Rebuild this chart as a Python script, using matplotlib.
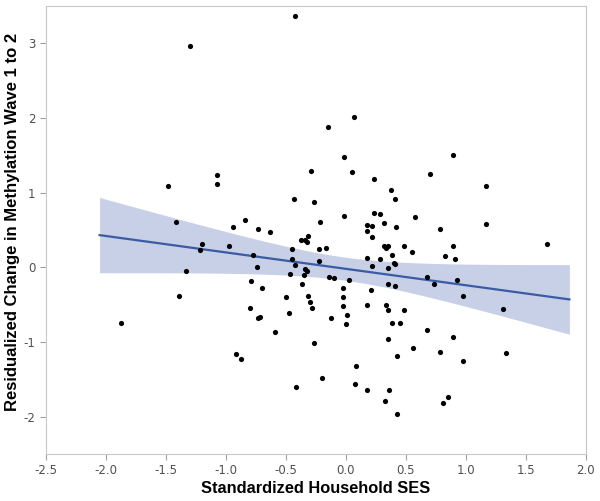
import matplotlib.pyplot as plt
import numpy as np

# standardized household SES (x) and residualized methylation change (y)
ses = [-0.42, -1.30, 0.07, -0.15, 0.895, -0.01, -0.29, 0.055, 0.70, 0.24,
       1.17, 0.38, 0.41, -0.26, 0.24, 0.29, -0.01, 0.58, -0.21, 0.32,
       1.17, 0.18, 0.22, 0.42, 0.79, 0.18, 0.22, 1.68, 0.895, 0.49,
       0.32, 0.35, 0.34, -0.16, -0.22, -0.31, -0.37, -0.34, -0.32,
       -1.48, -1.07, -1.07, -0.43, -1.41, -0.84, -0.94, -0.73, -0.63, -1.20,
       -0.97, -0.45, -1.21, -0.77, -0.74, -1.33, -0.79, -1.385, -0.80, -0.73,
       -0.71, -1.87, -0.70, -0.59, -0.91, -0.87, -0.41, -0.495, -0.475, -0.46,
       -0.45, -0.42,
       -0.22, -0.34, -0.32, -0.35, -0.14, -0.10, -0.36, -0.02, -0.31, -0.30,
       -0.28, -0.02, -0.02, -0.12, 0.0, -0.26, 0.01, 0.55, 0.18, 0.29,
       0.39, 0.40, 0.415, 0.22, 0.355, 0.03, 0.355, 0.41, 0.21, 0.18,
       0.335, 0.355, 0.485, 0.39, 0.45, 0.355, 0.56,
       0.825, 0.91, 0.68, 0.74, 0.93, 0.98, 1.315, 0.68, 0.895, 0.785,
       0.98, 1.34, 0.85, 0.81,
       0.425, 0.09, -0.20, 0.08, 0.175, 0.365, 0.33, 0.425]
change = [3.36, 2.96, 2.01, 1.88, 1.51, 1.48, 1.29, 1.28, 1.25, 1.18,
          1.09, 1.03, 0.92, 0.87, 0.73, 0.71, 0.69, 0.67, 0.61, 0.59,
          0.58, 0.57, 0.55, 0.54, 0.51, 0.49, 0.40, 0.31, 0.29, 0.29,
          0.28, 0.29, 0.26, 0.26, 0.24, 0.42, 0.36, 0.37, 0.34,
          1.09, 1.24, 1.11, 0.91, 0.61, 0.63, 0.54, 0.51, 0.47, 0.31,
          0.28, 0.25, 0.23, 0.17, 0.00, -0.05, -0.19, -0.38, -0.54, -0.68,
          -0.67, -0.75, -0.28, -0.87, -1.16, -1.23, -1.61, -0.40, -0.61, -0.09,
          0.11, 0.03,
          0.09, -0.02, -0.045, -0.11, -0.13, -0.15, -0.22, -0.28, -0.39, -0.46,
          -0.54, -0.40, -0.52, -0.68, -0.76, -1.01, -0.64, 0.20, 0.13, 0.115,
          0.17, 0.06, 0.045, 0.02, -0.01, -0.17, -0.23, -0.245, -0.31, -0.51,
          -0.50, -0.57, -0.57, -0.75, -0.75, -0.96, -1.08,
          0.15, 0.115, -0.13, -0.22, -0.17, -0.39, -0.56, -0.84, -0.93, -1.13,
          -1.26, -1.15, -1.74, -1.82,
          -1.19, -1.32, -1.48, -1.57, -1.64, -1.65, -1.79, -1.97]

x_ticks = [-2.5, -2.0, -1.5, -1.0, -0.5, 0.0, 0.5, 1.0, 1.5, 2.0]
y_ticks = [-2, -1, 0, 1, 2, 3]
fit_range = [-2.05, 1.865]

plt.rcParams['axes.unicode_minus'] = False

x = np.array(ses)
y = np.array(change)
n = len(x)

# linear fit + 95% confidence band for the mean
b1, b0 = np.polyfit(x, y, 1)
resid = y - (b0 + b1 * x)
s = np.sqrt(np.sum(resid ** 2) / (n - 2))
sxx = np.sum((x - x.mean()) ** 2)
xf = np.linspace(fit_range[0], fit_range[1], 200)
yf = b0 + b1 * xf
half = 1.98 * s * np.sqrt(1 / n + (xf - x.mean()) ** 2 / sxx)

fig = plt.figure(figsize=(6, 5.01), dpi=100)
ax = fig.add_axes([0.076, 0.094, 0.9, 0.894])

ax.fill_between(xf, yf - half, yf + half, color='#c7d0e6', lw=0, zorder=1)
ax.plot(xf, yf, color='#3b5ba5', lw=1.6, zorder=2)
ax.scatter(x, y, s=14, color='black', zorder=3, linewidths=0)

ax.set_xlim(-2.5, 2.0)
ax.set_ylim(-2.5, 3.5)
ax.set_xticks(x_ticks)
ax.set_xticklabels(['%.1f' % t for t in x_ticks])
ax.set_yticks(y_ticks)

for sp in ax.spines.values():
    sp.set_color('#c8c8c8')
ax.tick_params(colors='#a0a0a0', labelcolor='#505050', labelsize=8.5, length=4)

ax.set_xlabel('Standardized Household SES', fontsize=11.8, fontweight='bold',
              family='Liberation Sans')
ax.xaxis.set_label_coords(0.5, -0.06)
ax.set_ylabel('Residualized Change in Methylation Wave 1 to 2', fontsize=12,
              fontweight='bold', family='Liberation Sans')
ax.yaxis.set_label_coords(-0.047, 0.517)

plt.savefig('out.png')
